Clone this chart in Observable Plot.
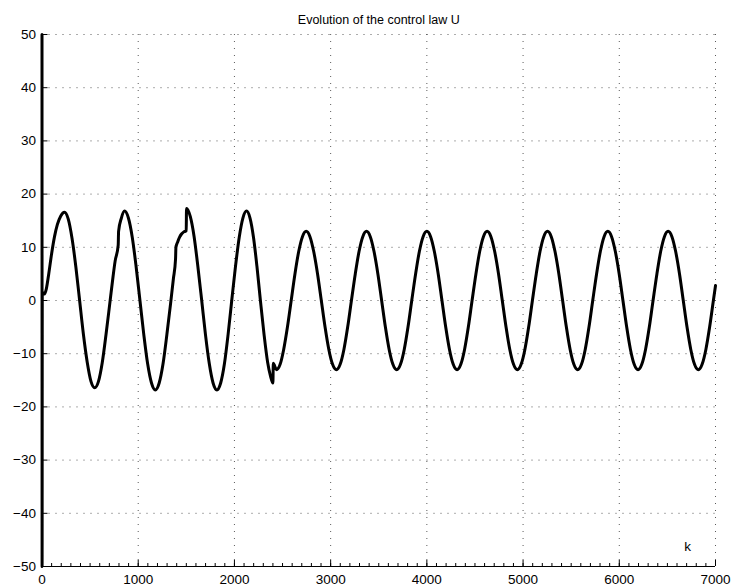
<!DOCTYPE html>
<html><head><meta charset="utf-8">
<script src="https://cdn.jsdelivr.net/npm/d3@7"></script>
<script src="https://cdn.jsdelivr.net/npm/@observablehq/plot@0.6"></script>
<style>body{margin:0;background:#fff}</style>
</head><body><div id="chart"></div>
<script>
const titleText = "Evolution of the control law U";
const xLabel = "k";
const kValues = [
  0, 1, 3, 25, 45, 70, 100, 130, 160, 195, 234,
  273, 312, 352, 391, 430, 470, 509, 548,
  587, 626, 666, 705, 735, 760, 792, 796, 825, 858,
  898, 938, 978, 1018, 1058, 1098, 1138, 1178,
  1218, 1258, 1298, 1337, 1365, 1388, 1392, 1410, 1430, 1450, 1474, 1499, 1502,
  1541, 1581, 1620, 1660, 1699, 1739, 1778, 1818,
  1857, 1896, 1934, 1972, 2011, 2050, 2088, 2126,
  2162, 2198, 2234, 2270, 2308, 2345, 2375, 2400, 2404, 2418, 2436,
  2475, 2512, 2551, 2590, 2629, 2668, 2707, 2746,
  2785, 2824, 2864, 2903, 2942, 2981, 3020, 3060, 3099, 3138, 3177, 3216, 3256, 3295, 3334, 3373,
  3412, 3451, 3491, 3530, 3569, 3608, 3647, 3687, 3726, 3765, 3804, 3843, 3883, 3922, 3961, 4000,
  4039, 4078, 4118, 4157, 4196, 4235, 4274, 4314, 4353, 4392, 4431, 4470, 4510, 4549, 4588, 4627,
  4666, 4705, 4745, 4784, 4823, 4862, 4901, 4941, 4980, 5019, 5058, 5097, 5137, 5176, 5215, 5254,
  5293, 5332, 5372, 5411, 5450, 5489, 5528, 5568, 5607, 5646, 5685, 5724, 5764, 5803, 5842, 5881,
  5920, 5959, 5999, 6038, 6077, 6116, 6155, 6195, 6234, 6273, 6312, 6351, 6391, 6430, 6469, 6508,
  6547, 6586, 6626, 6665, 6704, 6743, 6782, 6822, 6861, 6900, 6939, 6978, 7000
];
const uValues = [
  50, -50, 1.6, 1.2, 2.2, 5.0, 8.8, 12.0, 14.3, 15.9, 16.6,
  15.3, 11.7, 6.3, 0, -6.3, -11.6, -15.2, -16.4,
  -15.2, -11.7, -6.3, -0.5, 4.0, 7.4, 10.4, 13.0, 15.5, 16.8,
  15.5, 11.9, 6.4, 0, -6.4, -11.9, -15.5, -16.8,
  -15.5, -11.9, -6.4, -0.5, 4.0, 7.8, 10.0, 11.0, 11.9, 12.5, 12.9, 13.1, 17.3,
  15.8, 12.0, 6.4, 0, -6.4, -11.9, -15.5, -16.8,
  -15.5, -11.9, -6.4, 0, 6.4, 11.9, 15.5, 16.8,
  15.5, 11.9, 6.4, 0, -6.4, -11.6, -14.2, -15.5, -11.8, -12.3, -13.0,
  -12.0, -9.2, -5.0, 0, 5.0, 9.2, 12.0, 13,
  12.0, 9.2, 5.0, 0, -5.0, -9.2, -12.0, -13, -12.0, -9.2, -5.0, 0, 5.0, 9.2, 12.0, 13,
  12.0, 9.2, 5.0, 0, -5.0, -9.2, -12.0, -13, -12.0, -9.2, -5.0, 0, 5.0, 9.2, 12.0, 13,
  12.0, 9.2, 5.0, 0, -5.0, -9.2, -12.0, -13, -12.0, -9.2, -5.0, 0, 5.0, 9.2, 12.0, 13,
  12.0, 9.2, 5.0, 0, -5.0, -9.2, -12.0, -13, -12.0, -9.2, -5.0, 0, 5.0, 9.2, 12.0, 13,
  12.0, 9.2, 5.0, 0, -5.0, -9.2, -12.0, -13, -12.0, -9.2, -5.0, 0, 5.0, 9.2, 12.0, 13,
  12.0, 9.2, 5.0, 0, -5.0, -9.2, -12.0, -13, -12.0, -9.2, -5.0, 0, 5.0, 9.2, 12.0, 13,
  12.0, 9.2, 5.0, 0, -5.0, -9.2, -12.0, -13, -12.0, -9.2, -5.0, 0, 2.8
];
const xTicks = [0, 1000, 2000, 3000, 4000, 5000, 6000, 7000];
const xMinorTicks = d3.range(0, 7001, 100);
const yTicks = [-50, -40, -30, -20, -10, 0, 10, 20, 30, 40, 50];

const data = kValues.map((k, i) => ({k, u: uValues[i]}));

const W = 734, H = 587, mt = 34, mb = 21, ml = 41.5, mr = 19;
const ph = H - mt - mb, pw = W - ml - mr;
const fmt = d => d < 0 ? "\u2212" + Math.abs(d) : String(d);
const gridStyle = {stroke: "#000", strokeOpacity: 0.65, strokeWidth: 1, strokeDasharray: "1,6"};

const chart = Plot.plot({
  width: W, height: H,
  marginTop: mt, marginBottom: mb, marginLeft: ml, marginRight: mr,
  style: {fontFamily: "'Liberation Sans', Arial, Helvetica, sans-serif", fontSize: "13.5px", background: "#fff", color: "#000", overflow: "visible"},
  x: {domain: [0, 7000], label: null},
  y: {domain: [-50, 50], label: null},
  marks: [
    Plot.gridX(xTicks, gridStyle),
    Plot.gridY(yTicks, gridStyle),
    Plot.ruleX(xMinorTicks, {insetTop: ph - 3, stroke: "#000", strokeWidth: 1}),
    Plot.ruleX(xTicks, {insetTop: ph - 6, stroke: "#000", strokeWidth: 1}),
    Plot.ruleY(yTicks, {insetRight: pw - 6, stroke: "#000", strokeWidth: 1}),
    Plot.ruleY([-50], {stroke: "#000"}),
    Plot.ruleX([0], {stroke: "#000"}),
    Plot.axisX(xTicks, {tickSize: 0, tickPadding: 8, tickFormat: fmt, fontSize: 13.5, label: null}),
    Plot.axisY(yTicks, {tickSize: 0, tickPadding: 6, tickFormat: fmt, fontSize: 13.5, label: null}),
    Plot.line(data, {x: "k", y: "u", curve: "monotone-x", stroke: "#000", strokeWidth: 3, strokeLinejoin: "round"}),
    Plot.text([titleText], {text: d => d, frameAnchor: "top", dy: -15, fontSize: 12.5, lineAnchor: "middle"}),
    Plot.text([xLabel], {text: d => d, frameAnchor: "bottom-right", dx: -28, dy: -20, fontSize: 13.5, lineAnchor: "middle", textAnchor: "middle"})
  ]
});
document.getElementById("chart").appendChild(chart);
</script>
</body></html>
